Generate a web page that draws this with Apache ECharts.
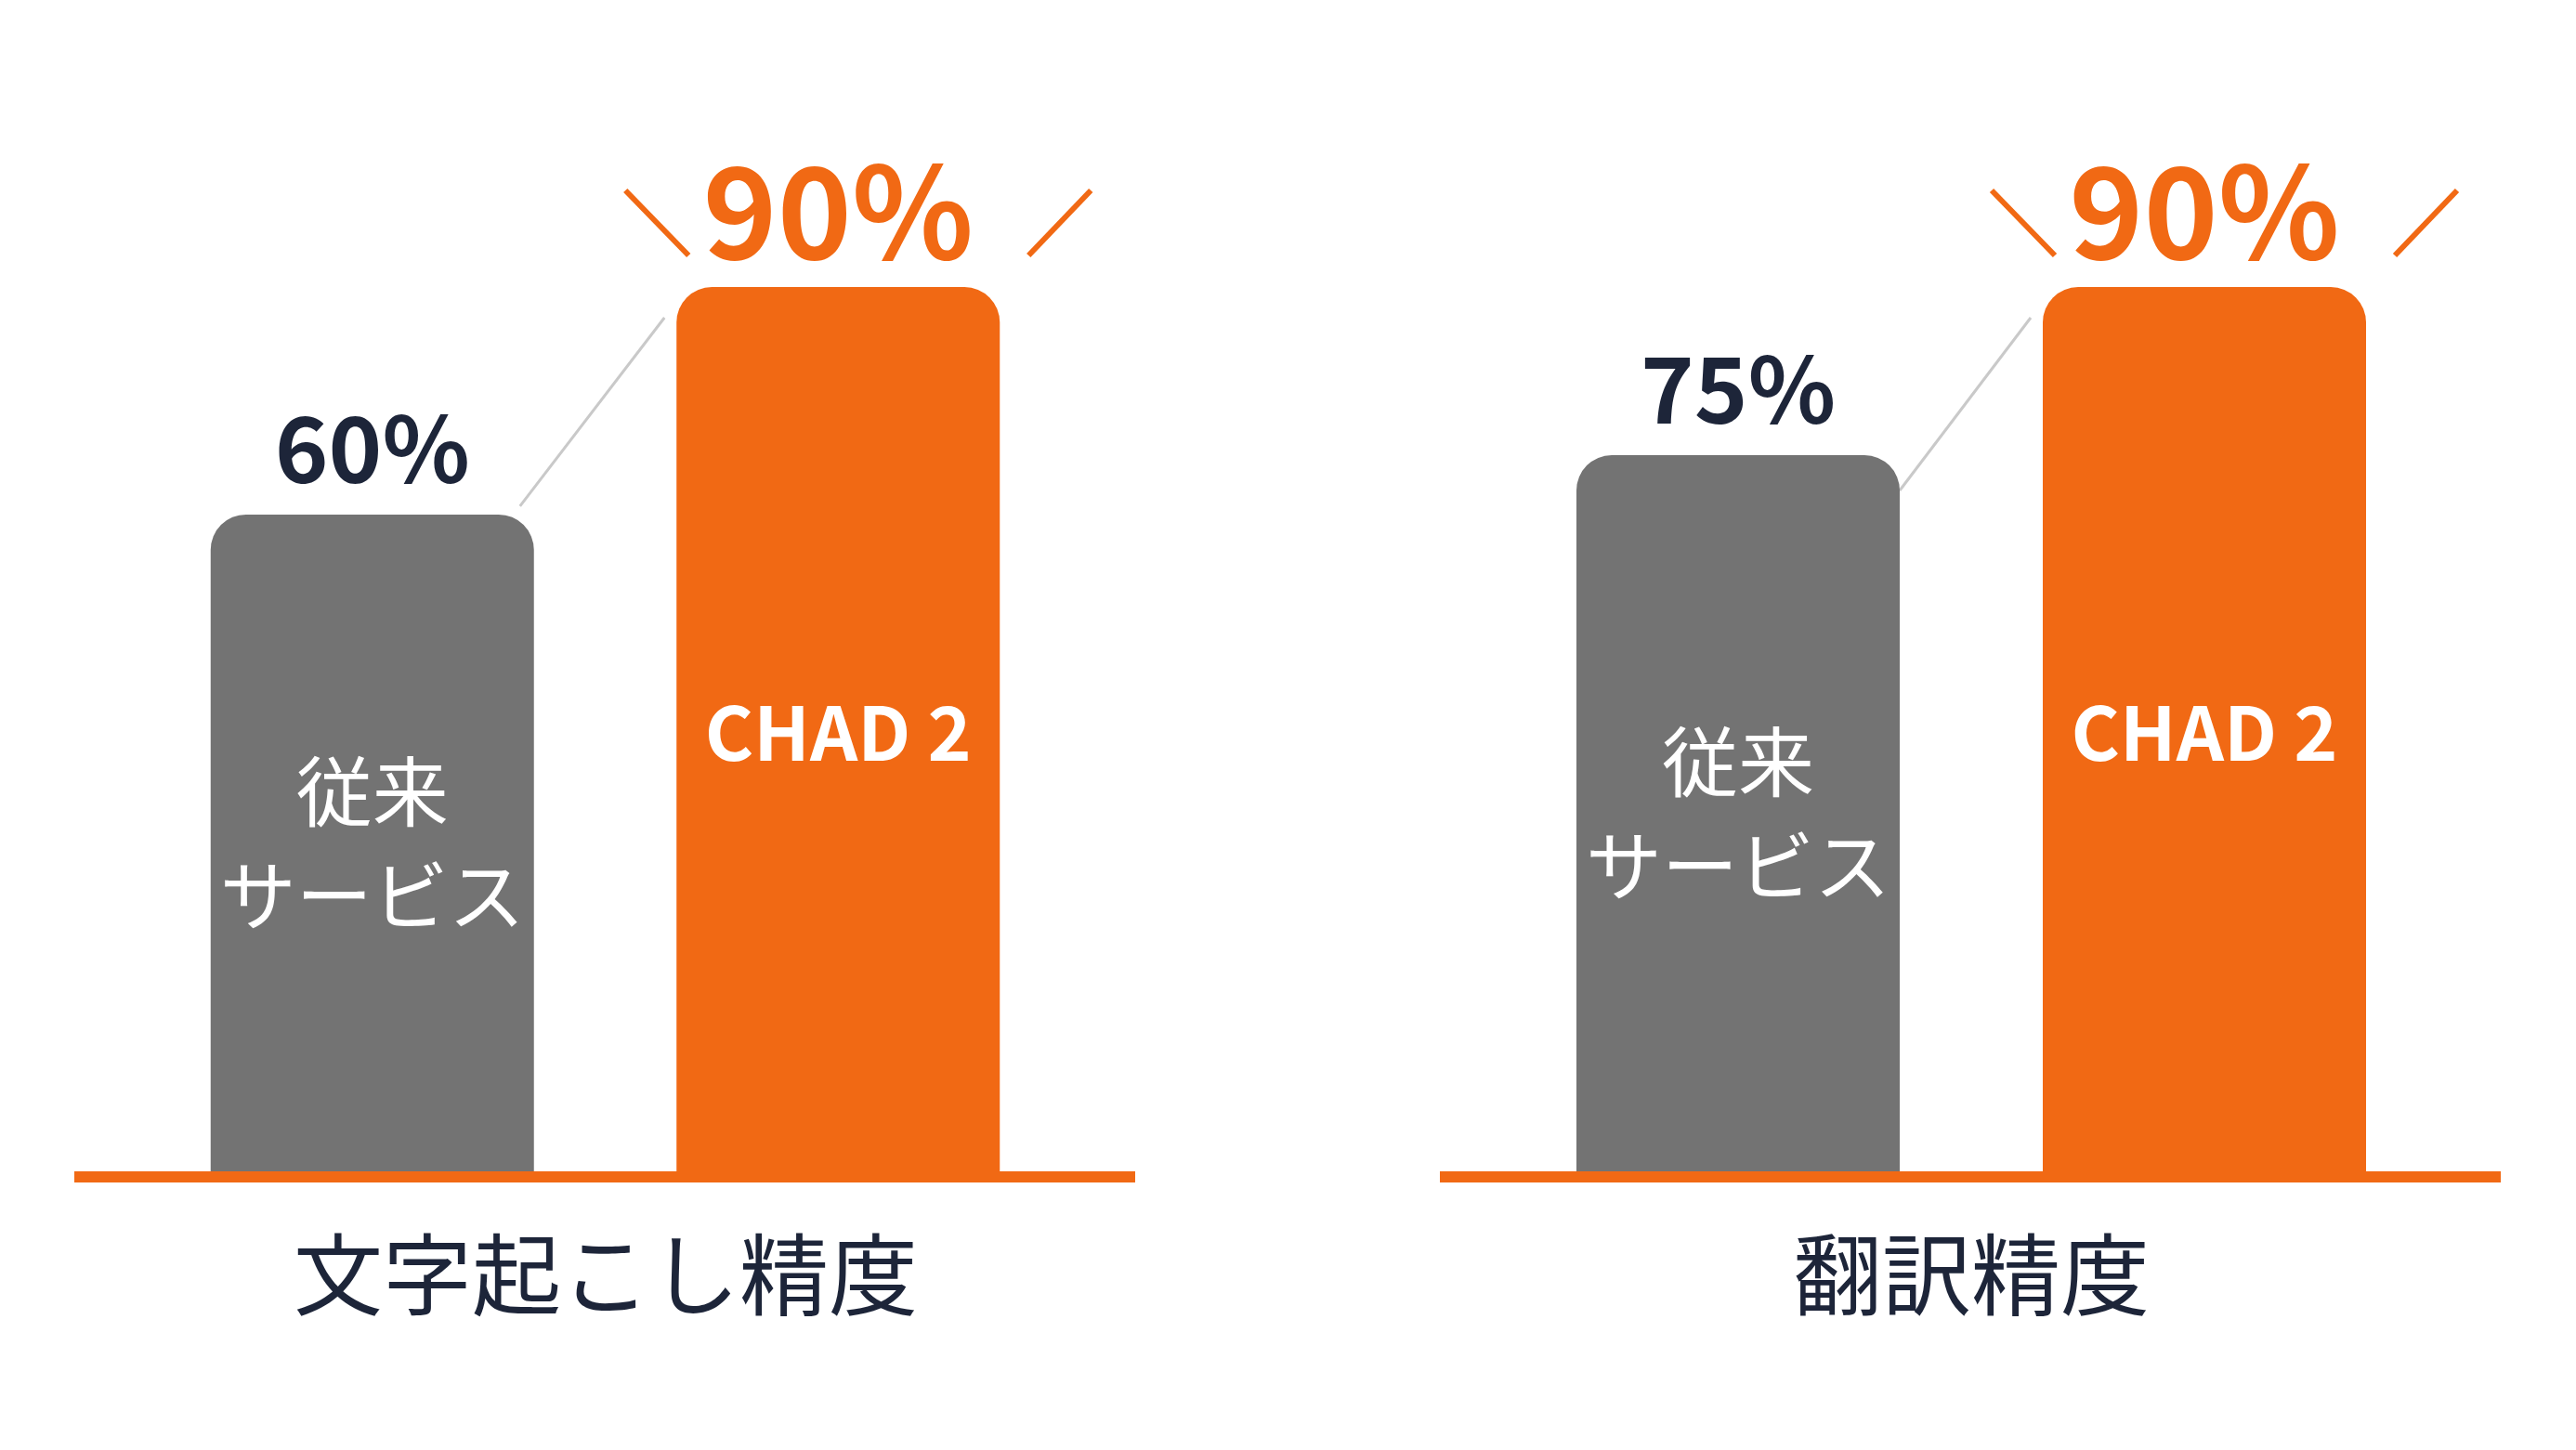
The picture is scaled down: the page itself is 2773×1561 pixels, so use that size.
<!DOCTYPE html>
<html>
<head>
<meta charset="utf-8">
<title>精度比較</title>
<script src="https://cdn.jsdelivr.net/npm/echarts@6/dist/echarts.min.js"></script>
<style>
    html, body { margin: 0; padding: 0; background: #ffffff; }
    #main { width: 2773px; height: 1561px; }
</style>
</head>
<body>
<div id="main"></div>
<script>
// 表示データ
var panelTitles = ['文字起こし精度', '翻訳精度'];
var barNames = ['従来\nサービス', 'CHAD 2'];
var transcriptionValues = [60, 90];
var translationValues = [75, 90];
var panelValues = [transcriptionValues, translationValues];

var GRAY = '#737373';
var ORANGE = '#f16914';
var NAVY = '#1d2539';
var FONT = '"Noto Sans CJK JP", "Noto Sans", sans-serif';
var BAR_W = 348;

var chart = echarts.init(document.getElementById('main'));

// 各パネルの軸範囲（絵の高さに合わせる）
var axisMin = [-26.6, 11.1];
var gridLeft = [150, 1620];
var gridWidth = [1003, 1004];

function topLabel(i) {
    // 0: 従来, 1: CHAD 2
    if (i === 0) {
        return { color: NAVY, fontSize: 98, distance: 22 };
    }
    return { color: ORANGE, fontSize: 136, distance: 14 };
}

function innerLabel(i) {
    if (i === 0) {
        return { fontWeight: 'normal', fontSize: 82, lineHeight: 112 };
    }
    return { fontWeight: 'bold', fontSize: 80, lineHeight: 100, offset: [0, 4] };
}

var grids = [], xAxes = [], yAxes = [], series = [];
panelValues.forEach(function (vals, p) {
    grids.push({ left: gridLeft[p], width: gridWidth[p], top: 309, bottom: 300 });
    xAxes.push({ gridIndex: p, type: 'category', data: barNames, show: false });
    yAxes.push({
        gridIndex: p,
        type: 'value',
        min: axisMin[p],
        max: 90,
        startValue: axisMin[p],
        show: false
    });

    series.push({
        type: 'bar',
        xAxisIndex: p,
        yAxisIndex: p,
        barWidth: BAR_W,
        barGap: '-100%',
        itemStyle: { borderRadius: [38, 38, 0, 0] },
        label: {
            show: true,
            position: 'top',
            fontFamily: FONT,
            fontWeight: 'bold',
            formatter: '{c}%'
        },
        data: vals.map(function (v, i) {
            return {
                value: v,
                itemStyle: { color: i === 0 ? GRAY : ORANGE },
                label: topLabel(i)
            };
        })
    });
    // バー内の文字
    series.push({
        type: 'bar',
        xAxisIndex: p,
        yAxisIndex: p,
        barWidth: BAR_W,
        barGap: '-100%',
        silent: true,
        itemStyle: { color: 'rgba(0,0,0,0)' },
        label: {
            show: true,
            position: 'inside',
            color: '#ffffff',
            fontFamily: FONT,
            formatter: function (d) { return barNames[d.dataIndex]; }
        },
        data: vals.map(function (v, i) {
            return { value: v, label: innerLabel(i) };
        })
    });
});

chart.setOption({
    animation: false,
    grid: grids,
    xAxis: xAxes,
    yAxis: yAxes,
    series: series
});

// 装飾（ベースライン・斜線・タイトル）
var baseLines = [[80, 1142], [1550, 1142]];
var titleX = [652, 2122];
var connStart = [[-15, -9], [0, 38]];
var elements = [];
panelValues.forEach(function (vals, p) {
    var gray = chart.convertToPixel({ gridIndex: p }, [0, vals[0]]);
    var orange = chart.convertToPixel({ gridIndex: p }, [1, vals[1]]);
    var grayRight = gray[0] + BAR_W / 2;
    var grayTop = gray[1];
    var orangeLeft = orange[0] - BAR_W / 2;
    var orangeRight = orange[0] + BAR_W / 2;
    var orangeTop = orange[1];
    var bottom = chart.convertToPixel({ gridIndex: p }, [0, axisMin[p]])[1];

    elements.push({
        type: 'rect',
        z: 10,
        shape: { x: baseLines[p][0], y: bottom, width: baseLines[p][1], height: 12 },
        style: { fill: ORANGE }
    });
    elements.push({
        type: 'line',
        shape: {
            x1: grayRight + connStart[p][0], y1: grayTop + connStart[p][1],
            x2: orangeLeft - 13, y2: orangeTop + 33
        },
        style: { stroke: '#c9c9c9', lineWidth: 3 }
    });
    elements.push({
        type: 'line',
        shape: { x1: orangeLeft - 55, y1: orangeTop - 104, x2: orangeLeft + 13, y2: orangeTop - 34 },
        style: { stroke: ORANGE, lineWidth: 6 }
    });
    elements.push({
        type: 'line',
        shape: { x1: orangeRight + 98, y1: orangeTop - 104, x2: orangeRight + 31, y2: orangeTop - 34 },
        style: { stroke: ORANGE, lineWidth: 6 }
    });
    elements.push({
        type: 'text',
        x: titleX[p],
        y: 1372,
        style: {
            text: panelTitles[p],
            fill: NAVY,
            font: 'normal 96px ' + FONT,
            textAlign: 'center',
            textVerticalAlign: 'middle'
        }
    });
});

chart.setOption({ graphic: { elements: elements } });
</script>
</body>
</html>
